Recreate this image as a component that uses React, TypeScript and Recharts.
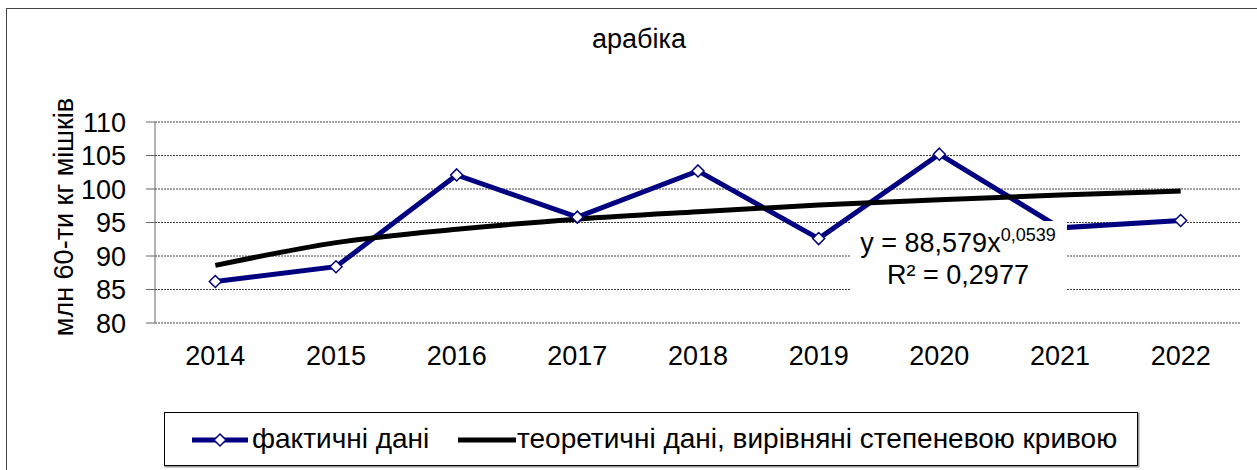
import { LineChart, Line, XAxis, YAxis, CartesianGrid } from "recharts";

const years = ["2014", "2015", "2016", "2017", "2018", "2019", "2020", "2021", "2022"];
const actual = [86.2, 88.4, 102.1, 95.8, 102.7, 92.6, 105.2, 94.2, 95.3];
const trend = [88.6, 92.0, 94.0, 95.5, 96.6, 97.6, 98.4, 99.1, 99.7];
const yTicks = [80, 85, 90, 95, 100, 105, 110];
const bandEdges = [0.5, 1.5, 2.5, 3.5, 4.5, 5.5, 6.5, 7.5, 8.5, 9.5];

const title = "арабіка";
const yLabel = "млн 60-ти кг мішків";
const actualName = "фактичні дані";
const trendName = "теоретичні дані, вирівняні степеневою кривою";

const NAVY = "#000080";
const FONT = "'Liberation Sans', Arial, sans-serif";

const data = years.map((y, i) => ({ x: i + 1, year: y, actual: actual[i], trend: trend[i] }));

function Diamond(props: any) {
  const { cx, cy } = props;
  if (cx == null || cy == null) return null;
  const r = 6;
  return (
    <path
      d={`M${cx},${cy - r}L${cx + r},${cy}L${cx},${cy + r}L${cx - r},${cy}Z`}
      fill="#fff"
      stroke={NAVY}
      strokeWidth={1.5}
    />
  );
}

function YearTick(props: any) {
  const { x, y, payload } = props;
  return (
    <text x={x} y={y} dy="0.71em" textAnchor="middle" fontSize={27} fontFamily={FONT} fill="#000">
      {years[payload.value - 1]}
    </text>
  );
}

function ValueTick(props: any) {
  const { x, y, payload } = props;
  return (
    <text x={x} y={y} dy="0.36em" textAnchor="end" fontSize={27} fontFamily={FONT} fill="#000">
      {payload.value}
    </text>
  );
}

export default function App() {
  return (
    <div style={{ position: "absolute", left: 0, top: 0, width: 1257, height: 470, background: "#fff" }}>
      <LineChart
        width={1257}
        height={470}
        data={data}
        margin={{ top: 122, right: 16, bottom: 87, left: 0 }}
      >
        <CartesianGrid vertical={false} stroke="#444" strokeDasharray="2 1" />
        <XAxis
          xAxisId="edges"
          type="number"
          dataKey="x"
          domain={[0.5, 9.5]}
          ticks={bandEdges}
          tickFormatter={() => ""}
          height={0}
          tickSize={8}
          stroke="#000"
          allowDataOverflow
        />
        <XAxis
          xAxisId="years"
          type="number"
          dataKey="x"
          domain={[0.5, 9.5]}
          ticks={[1, 2, 3, 4, 5, 6, 7, 8, 9]}
          tick={<YearTick />}
          tickLine={false}
          axisLine={false}
          tickSize={0}
          tickMargin={23}
          height={60}
          allowDataOverflow
        />
        <YAxis
          type="number"
          domain={[80, 110]}
          ticks={yTicks}
          width={155}
          tick={<ValueTick />}
          tickSize={9}
          tickMargin={20}
          stroke="#666"
        />
        <Line
          xAxisId="years"
          dataKey="actual"
          name={actualName}
          stroke={NAVY}
          strokeWidth={5}
          dot={<Diamond />}
          activeDot={false}
          isAnimationActive={false}
        />
        <Line
          xAxisId="years"
          type="monotone"
          dataKey="trend"
          name={trendName}
          stroke="#000"
          strokeWidth={5}
          dot={false}
          activeDot={false}
          isAnimationActive={false}
        />
      </LineChart>
      <svg
        width={1257}
        height={470}
        style={{ position: "absolute", left: 0, top: 0, pointerEvents: "none" }}
      >
        <rect x={6.5} y={8.5} width={1260} height={470} fill="none" stroke="#444" />
        <text x={639} y={48} textAnchor="middle" fontSize={27} fontFamily={FONT} fill="#000">
          {title}
        </text>
        <text
          x={73}
          y={217}
          transform="rotate(-90 73 217)"
          textAnchor="middle"
          fontSize={27}
          fontFamily={FONT}
          fill="#000"
        >
          {yLabel}
        </text>
        <rect x={850} y={221} width={217} height={72} fill="#fff" />
        <text x={958} y={252} textAnchor="middle" fontSize={27} fontFamily={FONT} fill="#000">
          y = 88,579x
          <tspan fontSize={18} dy={-11}>0,0539</tspan>
        </text>
        <text x={958} y={284} textAnchor="middle" fontSize={27} fontFamily={FONT} fill="#000">
          R² = 0,2977
        </text>
        <rect x={165.5} y={413.5} width={973} height={53} fill="none" stroke="#999" strokeWidth={2} />
        <rect x={164.5} y={412.5} width={973} height={53} fill="#fff" stroke="#000" />
        <line x1={192} y1={440} x2={248} y2={440} stroke={NAVY} strokeWidth={5} />
        <Diamond cx={220} cy={440} />
        <text x={252} y={448} fontSize={28} fontFamily={FONT} fill="#000">
          {actualName}
        </text>
        <line x1={458} y1={440} x2={516} y2={440} stroke="#000" strokeWidth={5} />
        <text x={517} y={448} fontSize={28} fontFamily={FONT} fill="#000">
          {trendName}
        </text>
      </svg>
    </div>
  );
}
